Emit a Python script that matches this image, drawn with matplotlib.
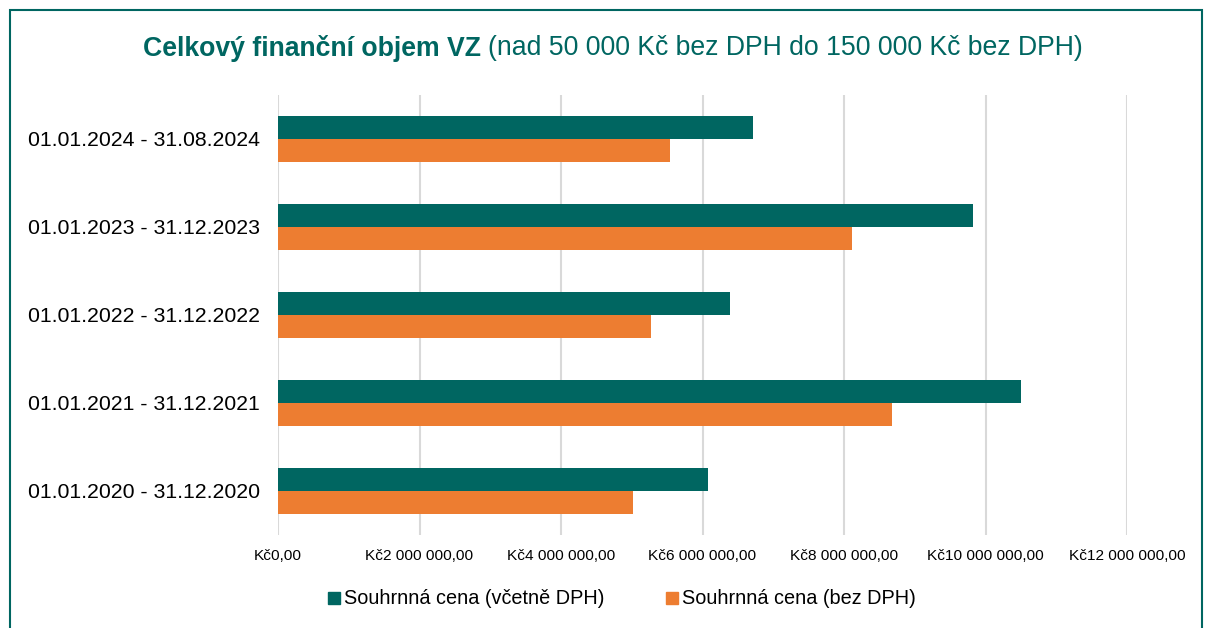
import matplotlib
matplotlib.use("Agg")
import matplotlib.pyplot as plt
from matplotlib.lines import Line2D
from matplotlib.patches import Rectangle
from matplotlib.ticker import FuncFormatter
import numpy as np

plt.rcParams['font.family'] = ['Liberation Sans', 'DejaVu Sans']

categories = ["01.01.2020 - 31.12.2020", "01.01.2021 - 31.12.2021",
              "01.01.2022 - 31.12.2022", "01.01.2023 - 31.12.2023",
              "01.01.2024 - 31.08.2024"]
incl_vat = [6.08e6, 10.50e6, 6.39e6, 9.82e6, 6.71e6]
excl_vat = [5.02e6, 8.68e6, 5.27e6, 8.11e6, 5.54e6]
series_names = ["Souhrnná cena (včetně DPH)", "Souhrnná cena (bez DPH)"]
xticks = [0, 2e6, 4e6, 6e6, 8e6, 10e6, 12e6]

teal = "#006661"
orange = "#ED7D31"

fig = plt.figure(figsize=(12.05, 6.28), dpi=100)
ax = fig.add_axes([278/1205, 93/628, (1127-278)/1205, (535-95)/628])

y = np.arange(len(categories))
h = 0.26
ax.barh(y + h/2, incl_vat, height=h, color=teal, zorder=3)
ax.barh(y - h/2, excl_vat, height=h, color=orange, zorder=3)

ax.set_xlim(0, 12e6)
ax.set_ylim(-0.5, len(categories) - 0.5)
ax.set_yticks(y)
ax.set_yticklabels(categories, fontsize=15.3)
ax.set_xticks(xticks)

def fmt(v, pos):
    s = f"{v:,.2f}".replace(",", " ").replace(".", ",")
    return "Kč" + s
ax.xaxis.set_major_formatter(FuncFormatter(fmt))
ax.tick_params(axis='x', labelsize=11.1, length=0, pad=10)
ax.tick_params(axis='y', length=0, pad=13)
ax.grid(axis='x', color='#D9D9D9', linewidth=1.5, zorder=0)
for s in ax.spines.values():
    s.set_visible(False)

# Title
ty = 1 - 48/628
t1 = fig.text(0.5, ty, "Celkový finanční objem VZ ", fontsize=19.2, fontweight='bold',
              color=teal, ha='right', va='center')
fig.canvas.draw()
r = fig.canvas.get_renderer()
bb1 = t1.get_window_extent(r)
t2 = fig.text(0, ty, "(nad 50 000 Kč bez DPH do 150 000 Kč bez DPH)", fontsize=19.2,
              color=teal, ha='left', va='center')
bb2 = t2.get_window_extent(r)
total = bb1.width + bb2.width
start = 613 - total/2
t1.set_position(((start + bb1.width)/1205, ty))
t2.set_position(((start + bb1.width)/1205, ty))

handles = [Line2D([], [], marker='s', linestyle='none', color=teal, markersize=8),
           Line2D([], [], marker='s', linestyle='none', color=orange, markersize=8)]
fig.legend(handles, series_names, loc='center', bbox_to_anchor=(615/1205, 1 - 599/628),
           ncol=2, frameon=False, fontsize=14.3, handletextpad=-0.5, columnspacing=2.4)

fig.add_artist(Rectangle((10/1205, -0.1), (1202-10)/1205, 1.1 - 10/628,
                         transform=fig.transFigure, fill=False, edgecolor=teal, linewidth=1.5))

fig.savefig("out.png", dpi=100)
